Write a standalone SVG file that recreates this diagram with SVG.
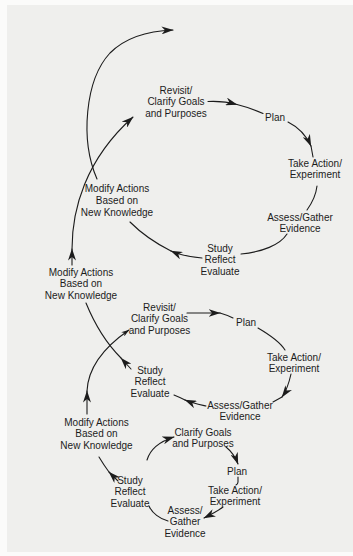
<svg xmlns="http://www.w3.org/2000/svg" xmlns:xlink="http://www.w3.org/1999/xlink" width="353" height="556" viewBox="0 0 353 556">
<defs>
<style>
.t{font-family:"Liberation Sans",Arial,sans-serif;font-size:10px;fill:#1c1c1c;text-anchor:middle}
.c{fill:none;stroke:#1c1c1c;stroke-width:1.1;stroke-linecap:round}
.a{marker-end:url(#ah)}
.s{marker-end:url(#ahs)}
</style>
<marker id="ah" markerUnits="userSpaceOnUse" viewBox="0 0 12 8" refX="11.5" refY="4" markerWidth="12" markerHeight="8" orient="auto">
<path d="M0,0 L12,4 L0,8 L3.5,4 Z" fill="#1c1c1c"/>
</marker>
<marker id="ahs" markerUnits="userSpaceOnUse" viewBox="0 0 12 8" refX="11.5" refY="4" markerWidth="8" markerHeight="5.5" orient="auto">
<path d="M0,0 L12,4 L0,8 L3.5,4 Z" fill="#1c1c1c"/>
</marker>
</defs>
<rect x="0" y="0" width="353" height="556" fill="#fbfbfa"/>
<rect x="7" y="5" width="346" height="547" fill="#efefed"/>

<g id="connectors">
<!-- top loop -->
<path class="c a" d="M208,101.5 C218,101 228,102 237,104.5"/>
<path class="c" d="M237,104.5 C247,107 255,110 263,113.5"/>
<path class="c a" d="M288,122 C298,127 306,135 311,146"/>
<path class="c" d="M311,146 L313,157"/>
<path class="c" d="M317,186 C316,195 312,203 307,210"/>
<path class="c" d="M287,234 C280,245 262,252 241,254"/>
<path class="c a" d="M202,258 C190,257 180,255 171,251"/>
<path class="c" d="M171,251 C155,243 140,232 130,222"/>
<path class="c a" d="M97,179 C80,140 85,80 110,53 C125,38 145,31 173,30"/>
<!-- middle loop -->
<path class="c a" d="M72,265 L72,249"/>
<path class="c a" d="M72,249 C72,210 85,160 133,117"/>
<path class="c a" d="M187,313 L220,313"/>
<path class="c" d="M220,313 Q227,315 233,318"/>
<path class="c" d="M258,328 C270,335 280,342 285,350"/>
<path class="c a" d="M291,374 C289,383 287,390 282,397"/>
<path class="c" d="M282,397 L273,402"/>
<path class="c a" d="M206,406 C197,404 192,403 185,400"/>
<path class="c" d="M185,400 Q179,397 174,395"/>
<path class="c a" d="M131,369 L121,358"/>
<path class="c" d="M121,358 C108,345 95,325 86,303"/>
<!-- bottom loop -->
<path class="c a" d="M87,414 L87,391"/>
<path class="c s" d="M87,391 C88,370 100,350 129,330"/>
<path class="c a" d="M147,460 C150,450 158,442 174,437"/>
<path class="c a" d="M226,447 C231,451 235,456 238,464"/>
<path class="c" d="M238,477 L238,482 Q238,484 236,485"/>
<path class="c a" d="M223,507 C218,511 212,514 204,518"/>
<path class="c" d="M168,521 C160,519 152,513 149,506"/>
<path class="c a" d="M118,481 L109,472"/>
<path class="c" d="M109,472 C106,468 102,462 99,457"/>
</g>

<g id="n1-revisit"><text class="t" x="176" y="93.5">Revisit/</text><text class="t" x="176" y="105">Clarify Goals</text><text class="t" x="176" y="116.5">and Purposes</text></g>
<g id="n1-plan"><text class="t" x="275" y="120.5">Plan</text></g>
<g id="n1-take"><text class="t" x="315" y="166.5">Take Action/</text><text class="t" x="315" y="178">Experiment</text></g>
<g id="n1-assess"><text class="t" x="300" y="220.5">Assess/Gather</text><text class="t" x="300" y="232">Evidence</text></g>
<g id="n1-study"><text class="t" x="220" y="251.5">Study</text><text class="t" x="220" y="263">Reflect</text><text class="t" x="220" y="274.5">Evaluate</text></g>
<g id="n1-modify"><text class="t" x="117" y="191.5">Modify Actions</text><text class="t" x="117" y="203.5">Based on</text><text class="t" x="117" y="215.5">New Knowledge</text></g>

<g id="n2-modify"><text class="t" x="81" y="275.5">Modify Actions</text><text class="t" x="81" y="287">Based on</text><text class="t" x="81" y="298.5">New Knowledge</text></g>
<g id="n2-revisit"><text class="t" x="159.5" y="310.5">Revisit/</text><text class="t" x="159.5" y="322">Clarify Goals</text><text class="t" x="159.5" y="333.5">and Purposes</text></g>
<g id="n2-plan"><text class="t" x="246" y="325.5">Plan</text></g>
<g id="n2-take"><text class="t" x="294" y="360.5">Take Action/</text><text class="t" x="294" y="372">Experiment</text></g>
<g id="n2-assess"><text class="t" x="240" y="408.5">Assess/Gather</text><text class="t" x="240" y="420">Evidence</text></g>
<g id="n2-study"><text class="t" x="150" y="373.5">Study</text><text class="t" x="150" y="385">Reflect</text><text class="t" x="150" y="396.5">Evaluate</text></g>

<g id="n3-clarify"><text class="t" x="203" y="435.5">Clarify Goals</text><text class="t" x="203" y="447">and Purposes</text></g>
<g id="n3-plan"><text class="t" x="237" y="474.5">Plan</text></g>
<g id="n3-take"><text class="t" x="235" y="493.5">Take Action/</text><text class="t" x="235" y="505">Experiment</text></g>
<g id="n3-assess"><text class="t" x="185" y="513.5">Assess/</text><text class="t" x="185" y="525">Gather</text><text class="t" x="185" y="536.5">Evidence</text></g>
<g id="n3-study"><text class="t" x="130" y="483.5">Study</text><text class="t" x="130" y="495">Reflect</text><text class="t" x="130" y="506.5">Evaluate</text></g>
<g id="n3-modify"><text class="t" x="96.5" y="425.5">Modify Actions</text><text class="t" x="96.5" y="437">Based on</text><text class="t" x="96.5" y="448.5">New Knowledge</text></g>
</svg>
